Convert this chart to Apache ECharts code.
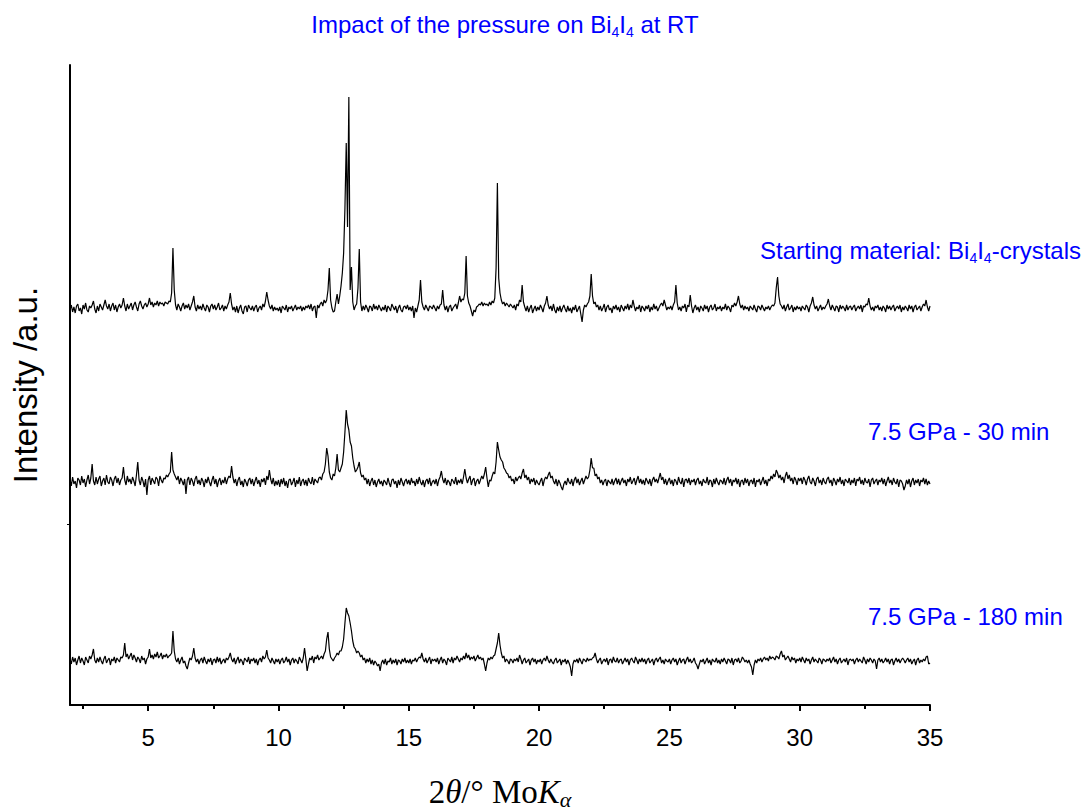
<!DOCTYPE html>
<html><head><meta charset="utf-8">
<script src="https://cdn.jsdelivr.net/npm/echarts@6/dist/echarts.min.js"></script>
<style>html,body{margin:0;padding:0;background:#fff}#c{width:1082px;height:809px}</style>
</head><body><div id="c"></div>
<script>
// sampling grid of the scans (degrees 2theta): first point and step
const X_START = 2.0, X_STEP = 0.05;
const majorTicks = [5, 10, 15, 20, 25, 30, 35];
const minorTicks = [2.5, 7.5, 12.5, 17.5, 22.5, 27.5, 32.5];
const yTicks = [181];
const seriesNames = ['Starting material', '7.5 GPa - 30 min', '7.5 GPa - 180 min'];
// vertical stacking offsets of the three scans (a.u.)
const offsets = [397, 223, 44];

// intensity above baseline, one row per degree (2.00 ... 2.95, 3.00 ... ), last row = 35.00
const scanStart = [
[-2,3,-4,1,-5,2,4,-3,0,-6,3,-1,5,-2,-4,2,0,3,7,-1],
[-5,2,-3,4,1,-2,3,8,2,-1,4,-3,2,5,-2,3,-4,1,4,0],
[3,10,2,-3,4,-1,2,5,-2,3,6,1,-3,4,7,2,-1,3,5,1],
[4,10,3,6,1,5,3,7,2,6,4,5,2,6,5,4,7,6,15,60],
[18,3,-2,4,1,-3,2,5,-1,3,0,4,-2,2,6,12,1,-3,3,-1],
[2,-2,4,0,-3,3,1,-4,2,4,-1,3,-2,1,5,-2,0,3,-3,2],
[-1,3,6,15,4,-2,1,-4,2,-5,0,3,-3,-6,1,2,-4,3,0,-2],
[2,-3,1,3,-4,0,2,-2,4,1,7,16,8,2,-1,3,-3,1,-2,0],
[-3,1,-5,2,0,-2,3,-4,1,-1,2,-3,0,3,-2,1,-1,2,-3,1],
[-2,2,0,3,-1,4,-3,1,2,-10,3,0,4,6,2,8,5,8,18,40],
[8,0,-4,-3,6,14,4,12,22,35,55,100,165,81,211,18,41,6,-2,2],
[4,20,59,6,-3,2,-2,3,0,-4,2,1,-3,4,-1,2,-2,3,0,-3],
[1,-2,3,-4,2,0,-3,4,1,-2,2,-5,0,3,-2,-4,1,2,-1,3],
[-2,1,-3,2,-10,0,-4,2,8,28,6,1,-2,3,0,-3,2,1,-1,3],
[0,-3,2,-1,3,4,18,3,-2,2,-4,1,3,-3,0,2,4,-1,5,12],
[6,9,8,15,52,12,5,2,-3,-8,-2,-4,1,2,4,3,6,2,5,3],
[4,2,6,3,7,5,10,40,125,30,15,8,4,6,2,5,3,1,4,2],
[0,3,-2,4,2,8,6,23,6,1,-3,2,-4,0,3,-5,-1,2,-3,1],
[-2,3,0,-4,2,5,12,3,-1,2,-3,4,-2,-5,1,-3,2,-4,0,3],
[-1,-4,2,-3,0,-5,1,-2,3,-4,-1,2,-6,-14,-2,3,1,4,6,12],
[34,12,4,6,1,3,-2,2,-3,0,4,-4,1,3,-2,0,-5,2,-1,3],
[-2,1,-4,3,0,-3,2,-1,4,-2,3,0,8,2,-3,1,-1,3,-4,2],
[0,-3,2,-1,3,-4,1,-2,4,-1,2,-3,0,3,5,2,8,3,-2,1],
[-1,2,-2,3,6,23,5,-2,1,-3,2,0,4,-4,3,1,13,2,-5,0],
[3,-2,1,-4,2,0,-3,3,-1,2,-4,1,3,-2,0,4,-3,1,-1,2],
[-3,1,-1,4,-2,2,0,-4,3,1,5,2,6,12,4,0,3,-2,2,-1],
[1,-3,2,0,-2,3,-1,-4,2,1,-2,3,0,-3,1,-1,2,-2,1,3],
[2,5,20,31,12,4,2,-1,3,-3,1,4,-2,0,3,-4,1,-2,2,-1],
[1,-3,2,0,-2,3,1,-4,2,5,11,3,-1,2,-3,0,3,-2,1,-1],
[2,4,9,2,-2,3,0,-3,2,1,-4,3,-1,2,0,-3,3,-2,1,2],
[-2,1,3,-3,0,2,-1,3,-4,2,1,4,3,10,2,-2,1,-3,2,0],
[3,-2,1,-3,2,0,-4,3,-1,2,-2,1,3,-3,0,2,-1,3,-4,1],
[-2,2,0,-3,3,-1,2,-4,1,3,-2,0,2,-3,1,4,2,8,1,-3],
[2]
];
const scan30 = [
[3,-4,5,-2,1,-6,4,2,-3,6,-1,3,-5,2,7,-2,4,18,1,-3],
[5,-2,3,6,-4,1,4,-3,7,0,-2,5,2,-4,3,6,-1,4,-3,2],
[4,15,2,-3,6,0,3,-2,5,1,-4,7,20,2,-3,5,1,-5,3,-13],
[2,6,-3,4,1,-2,5,3,-4,6,2,-1,4,3,7,5,8,10,30,12],
[8,5,2,6,-2,4,1,-3,3,-12,2,5,-3,4,1,-4,3,6,-2,2],
[-3,4,1,-5,3,-1,5,0,-4,2,6,-2,3,-5,1,4,-3,2,-1,5],
[-2,3,6,4,16,5,-1,3,-4,2,5,-3,1,-5,3,0,-4,2,4,-2],
[3,-4,1,5,-2,2,-5,3,0,4,-3,6,2,12,3,-2,4,-4,1,-3],
[2,-5,3,-2,4,-4,1,-6,2,3,-3,0,4,-5,2,-2,5,-4,1,3],
[-3,2,-4,4,0,-2,5,-3,3,1,-1,4,5,2,8,10,18,34,26,10],
[4,2,8,6,14,28,12,10,14,18,30,50,72,58,52,40,36,24,16,10],
[12,15,20,9,5,7,2,4,-2,3,-4,1,4,-3,2,-5,0,3,-2,1],
[-4,2,0,-3,4,-1,-5,2,3,-2,1,-6,2,-3,4,0,-4,1,3,-2],
[2,-3,4,-1,1,-4,3,-2,5,0,-3,2,-5,1,3,-2,4,-4,0,2],
[-2,3,-4,2,5,11,3,-1,4,-3,2,0,-4,3,1,-2,5,-3,2,-1],
[3,-2,5,13,4,-1,3,6,-3,2,4,-4,1,3,-2,2,6,3,8,15],
[4,-5,2,1,6,10,8,20,40,32,25,22,20,14,12,9,8,4,6,1],
[3,-2,5,1,4,6,3,9,13,4,7,2,5,-2,3,0,4,-3,2,-1],
[-3,1,4,-4,2,5,3,7,10,4,6,1,-2,3,-4,2,-1,-5,-8,-2],
[1,-3,4,0,-2,3,-4,2,5,-1,3,-3,1,4,-2,2,6,3,5,12],
[24,14,14,6,8,3,5,-1,2,-3,1,3,-4,2,0,-2,3,-3,1,4],
[-2,3,-3,1,4,-1,2,-4,3,0,5,-2,1,4,-3,2,6,-1,3,-2],
[2,-3,4,1,-2,3,-4,2,5,0,3,-1,4,9,2,5,-2,3,-3,1],
[4,-2,2,-4,3,1,-3,5,0,-2,4,-5,2,3,-1,4,-3,2,0,3],
[-3,2,4,-2,1,-4,3,0,-1,5,-3,2,1,-5,3,-2,4,0,-3,2],
[1,-2,4,-3,2,5,-1,3,-4,2,0,4,-2,3,-5,1,2,-3,4,-1],
[3,-4,1,2,-2,4,-5,2,0,3,-3,1,5,-2,2,-4,3,1,6,3],
[8,5,12,9,4,7,2,5,-1,6,10,3,7,1,4,-2,5,2,-3,4],
[1,4,-2,5,2,-3,3,6,0,-2,4,1,-4,3,5,-1,2,-3,4,0],
[-2,3,5,-1,2,-4,4,1,-3,3,0,5,-2,2,-4,3,1,-1,4,-3],
[2,-1,4,-4,3,1,5,-2,2,-3,4,0,-1,3,-5,2,4,-2,1,3],
[-3,2,0,4,-2,3,-4,1,5,-1,2,-3,4,0,-2,3,-5,2,1,-2],
[-8,-4,2,-2,3,-5,1,4,-3,2,-1,3,-4,2,0,4,-2,3,-3,1],
[-2]
];
const scan180 = [
[2,-3,4,-1,3,-4,1,5,-2,3,0,-4,4,1,-2,5,2,6,12,1],
[-2,3,-1,4,0,-3,2,5,-2,1,3,-4,2,0,4,-2,3,1,-1,4],
[3,6,18,4,7,2,5,8,1,6,3,-1,4,2,-2,5,1,3,-3,2],
[4,12,3,6,2,7,4,9,3,5,8,2,6,4,7,3,5,6,8,30],
[10,2,-1,3,-3,1,4,-2,0,-5,-8,-2,3,1,5,13,3,-1,2,-3],
[1,3,-2,4,0,-3,2,-1,3,-4,1,2,-2,4,-1,3,-3,0,2,-2],
[3,1,4,8,2,-1,3,-3,1,4,-2,2,0,-4,3,1,-1,4,-3,2],
[0,3,-2,2,-4,1,3,-1,5,2,4,11,3,1,-2,3,0,-3,2,-1],
[2,-3,1,3,-2,0,4,-1,2,-4,1,3,-2,2,0,-3,4,1,-2,3],
[13,2,-10,-3,3,1,5,-2,4,2,6,1,3,5,2,7,10,22,29,12],
[4,2,0,3,5,8,6,10,10,14,22,38,53,48,45,38,30,20,14,12],
[8,10,8,4,6,1,3,-2,2,-1,3,-3,1,-4,0,-2,-5,-3,-10,-2],
[1,-3,2,-4,0,-1,3,-3,1,-2,2,-4,1,0,-3,2,-1,3,-2,1],
[-2,2,-3,1,0,3,-1,2,4,3,8,2,-1,3,-2,1,4,-3,2,0],
[2,-1,3,-3,1,4,-2,2,0,-4,3,1,-1,4,-2,3,1,5,2,-1],
[3,1,5,2,8,3,6,1,4,2,5,0,3,6,2,4,1,3,-3,-10],
[-2,3,1,4,2,5,6,12,18,28,16,8,3,5,-1,2,0,-3,2,1],
[-2,2,0,3,-1,6,2,-3,1,3,-2,0,2,-4,1,3,-1,2,-3,1],
[-1,2,-3,1,3,0,5,1,-2,2,-1,-3,1,3,-2,0,2,-4,1,-1],
[2,-3,1,-2,-6,-15,-3,1,-1,2,-2,3,0,-3,2,1,-1,3,0,2],
[1,3,4,8,2,-2,1,3,-3,0,2,-1,3,-4,1,2,-2,4,0,-1],
[3,-2,1,2,-3,0,3,-1,2,-4,1,3,0,-2,4,1,-3,2,-1,3],
[-1,2,-3,1,3,-2,0,2,-4,1,3,-1,2,4,-2,1,-3,2,0,-1],
[2,-3,1,3,-1,2,-4,0,3,-2,1,2,-3,1,4,-1,2,-2,0,3],
[-2,-4,-8,-3,1,-1,2,-3,0,3,-2,1,-4,2,0,-1,3,-2,1,-3],
[2,-1,3,0,-3,2,1,-2,3,-4,1,2,-1,3,-2,0,4,2,-1,1],
[-2,1,-3,-6,-14,-4,1,-2,2,0,3,-1,2,4,1,3,0,5,2,4],
[3,1,5,4,2,7,10,4,6,1,3,5,2,-1,4,1,3,-2,2,0],
[3,-1,4,1,-2,3,0,2,-3,1,4,-1,2,0,-2,3,1,-3,2,1],
[-1,2,0,3,-2,1,4,-1,2,-3,1,3,-2,0,2,-1,3,-4,1,2],
[0,2,-3,1,3,-1,2,0,-2,4,1,-3,2,-1,3,1,-2,2,0,-8],
[1,3,-1,2,-2,0,3,-1,2,-3,1,2,-4,0,3,-1,2,-2,1,3],
[1,-2,1,3,-1,2,-3,0,2,-4,1,3,-2,1,-1,2,0,4,5,-3],
[-2]
];
const scans = [scanStart, scan30, scan180];

function toPairs(rows, offset) {
  const out = [];
  let i = 0;
  rows.forEach((row, r) => {
    if (r < rows.length - 1 && row.length !== 20) throw new Error('row ' + r + ' has ' + row.length);
    row.forEach(v => { out.push([+(X_START + i * X_STEP).toFixed(2), offset + v]); i++; });
  });
  return out;
}

const blue = '#0000FF';
const sans = 'Liberation Sans, Arial, sans-serif';
const serif = 'Liberation Serif, Times New Roman, serif';
const richSub = {
  m: { fontSize: 24, fontFamily: sans, fill: blue, color: blue, lineHeight: 30, verticalAlign: 'middle' },
  s: { fontSize: 14, fontFamily: sans, fill: blue, color: blue, lineHeight: 8, verticalAlign: 'bottom' }
};

const chart = echarts.init(document.getElementById('c'), null, { renderer: 'svg' });
chart.setOption({
  animation: false,
  backgroundColor: '#fff',
  grid: { left: 70, right: 152, top: 65, bottom: 104, containLabel: false },
  xAxis: [{
    type: 'value', min: 2, max: 35,
    axisLine: { show: true, onZero: false, lineStyle: { color: '#000', width: 2 } },
    axisTick: { show: true, customValues: majorTicks, length: 6, lineStyle: { color: '#000', width: 2 } },
    axisLabel: { show: true, customValues: majorTicks, fontSize: 24, color: '#000', fontFamily: sans, margin: 20 },
    splitLine: { show: false }
  }, {
    type: 'value', min: 2, max: 35, position: 'bottom',
    axisLine: { show: false },
    axisTick: { show: true, customValues: minorTicks, length: 4, lineStyle: { color: '#000', width: 2 } },
    axisLabel: { show: false }, splitLine: { show: false }
  }],
  yAxis: {
    type: 'value', min: 0, max: 640,
    axisLine: { show: true, onZero: false, lineStyle: { color: '#000', width: 2 } },
    axisTick: { show: true, customValues: yTicks, length: 3, lineStyle: { color: '#000', width: 1 } },
    axisLabel: { show: false }, splitLine: { show: false }
  },
  series: scans.map((rows, k) => ({
    name: seriesNames[k], type: 'line', xAxisIndex: 0, yAxisIndex: 0,
    data: toPairs(rows, offsets[k]), symbol: 'none', showSymbol: false,
    lineStyle: { color: '#000', width: 1.2 }, silent: true
  })),
  graphic: [
    { type: 'text', x: 505, y: 24, style: {
      text: '{m|Impact of the pressure on Bi}{s|4}{m|I}{s|4}{m| at RT}', rich: richSub, fill: blue,
      align: 'center', verticalAlign: 'middle' } },
    { type: 'text', x: 760, y: 250, style: {
      text: '{m|Starting material: Bi}{s|4}{m|I}{s|4}{m|-crystals}', rich: richSub, fill: blue,
      align: 'left', verticalAlign: 'middle' } },
    { type: 'text', x: 868, y: 431, style: {
      text: '7.5 GPa - 30 min', fontSize: 24, fontFamily: sans, fill: blue,
      align: 'left', verticalAlign: 'middle' } },
    { type: 'text', x: 868, y: 616, style: {
      text: '7.5 GPa - 180 min', fontSize: 24, fontFamily: sans, fill: blue,
      align: 'left', verticalAlign: 'middle' } },
    { type: 'text', x: 25, y: 385, rotation: Math.PI / 2, style: {
      text: 'Intensity /a.u.', fontSize: 33, fontFamily: sans, fill: '#000',
      align: 'center', verticalAlign: 'middle' } },
    { type: 'text', x: 500, y: 792, style: {
      text: '{n|2}{i|θ}{n|/° Mo}{i|K}{a|α}',
      rich: {
        n: { fontSize: 33, fontFamily: serif, fill: '#000', lineHeight: 36, verticalAlign: 'middle' },
        i: { fontSize: 33, fontFamily: serif, fontStyle: 'italic', fill: '#000', lineHeight: 36, verticalAlign: 'middle' },
        a: { fontSize: 22, fontFamily: serif, fontStyle: 'italic', fill: '#000', lineHeight: 6, verticalAlign: 'bottom' }
      },
      align: 'center', verticalAlign: 'middle' } }
  ]
});
</script></body></html>
